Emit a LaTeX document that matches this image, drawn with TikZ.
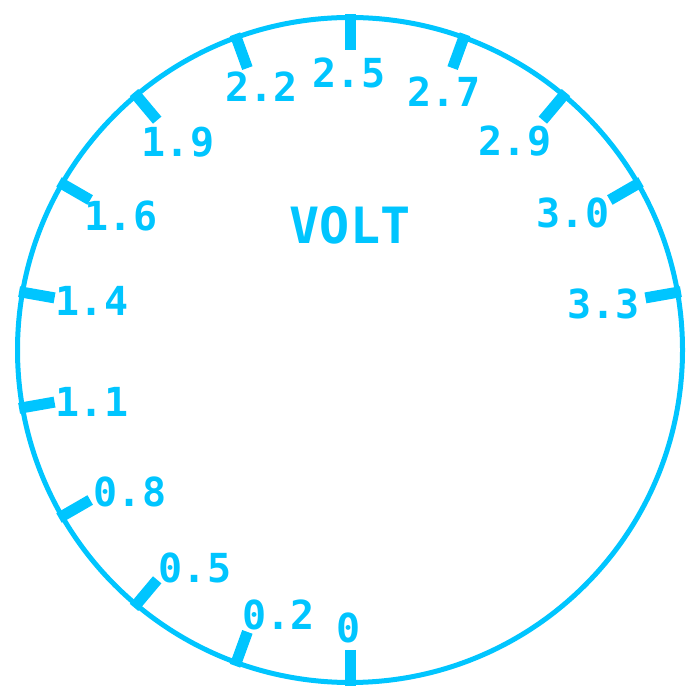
\documentclass[tikz,border=0pt]{standalone}
\usepackage{fontspec}
\usetikzlibrary{calc}
\setmonofont{DejaVu Sans Mono}
\definecolor{gauge}{RGB}{0,197,255}
\tikzset{
  rim/.style={draw=gauge, line width=5pt},
  tickmark/.style={draw=gauge, line width=11pt},
  lbl/.style={text=gauge, font=\ttfamily\bfseries\fontsize{40}{40}\selectfont, inner sep=0pt},
  ttl/.style={text=gauge, font=\ttfamily\bfseries\fontsize{50}{50}\selectfont, inner sep=0pt}
}
\begin{document}
\begin{tikzpicture}[x=1pt,y=1pt]
\useasboundingbox (0,0) rectangle (700,700);
\coordinate (c) at (350,350);
\draw[rim] (c) circle (332.5);
\foreach \a [count=\i] in {-90,-110,-130,-150,-170,170,150,130,110,90,70,50,30,10}{
  \coordinate (ti\i) at ($(c)+(\a:300)$);
  \coordinate (to\i) at ($(c)+(\a:336)$);
  \draw[tickmark] (ti\i) -- (to\i);
}
\node[lbl] (l0)  at (349,72.5) {0};
\node[lbl] (l1)  at (278.5,85.5) {0.2};
\node[lbl] (l2)  at (195,132) {0.5};
\node[lbl] (l3)  at (130,208.5) {0.8};
\node[lbl] (l4)  at (92,298.5) {1.1};
\node[lbl] (l5)  at (92,399.5) {1.4};
\node[lbl] (l6)  at (121,484.5) {1.6};
\node[lbl] (l7)  at (178,558) {1.9};
\node[lbl] (l8)  at (261.5,613) {2.2};
\node[lbl] (l9)  at (349,627.5) {2.5};
\node[lbl] (l10) at (444,608) {2.7};
\node[lbl] (l11) at (515,559) {2.9};
\node[lbl] (l12) at (573,487) {3.0};
\node[lbl] (l13) at (603.5,396.5) {3.3};
\node[ttl] (title) at (350,474.5) {VOLT};
\end{tikzpicture}
\end{document}
